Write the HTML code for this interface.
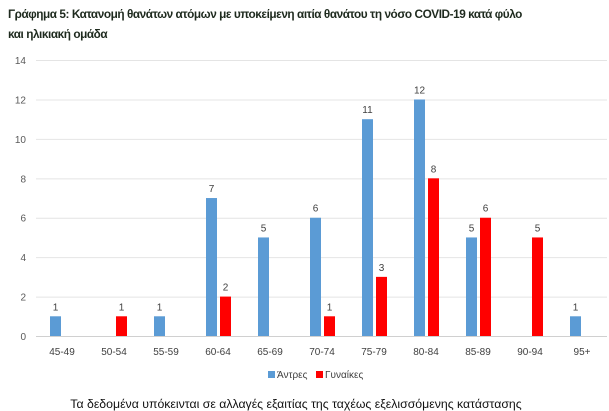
<!DOCTYPE html>
<html><head><meta charset="utf-8"><style>
body{margin:0;background:#fff;width:609px;height:411px;overflow:hidden;font-family:"Liberation Sans",sans-serif}
.t{position:absolute;left:8px;top:4px;font-weight:bold;font-size:11.8px;line-height:20px;color:#1e2a1e;letter-spacing:-0.45px;white-space:nowrap}
</style></head><body>
<div class="t">Γράφημα 5: Κατανομή θανάτων ατόμων με υποκείμενη αιτία θανάτου τη νόσο COVID-19 κατά φύλο<br>και ηλικιακή ομάδα</div>
<svg id="c" width="609" height="411" style="position:absolute;left:0;top:0"></svg>
<script>
const categories=["45-49","50-54","55-59","60-64","65-69","70-74","75-79","80-84","85-89","90-94","95+"];
const men=[1,0,1,7,5,6,11,12,5,0,1];
const women=[0,1,0,2,0,1,3,8,6,5,0];
const ticks=[0,2,4,6,8,10,12,14];
const svg=document.getElementById('c');
const NS="http://www.w3.org/2000/svg";
const x0=36,bw=52,y0=336,pu=19.71;
const xc=i=>x0+bw*(i+0.5);
const y=v=>y0-v*pu;
function mk(t,a,txt){const e=document.createElementNS(NS,t);for(const k in a)e.setAttribute(k,a[k]);if(txt!==undefined)e.textContent=txt;svg.appendChild(e);return e;}
ticks.forEach(v=>{
const l=mk('line',{x1:x0,x2:607,y1:y(v)+.5,y2:y(v)+.5,stroke:v?'#e4e4e4':'#d0d0d0','stroke-width':1});


const t=mk('text',{x:26,y:y(v)+4,'text-anchor':'end','font-size':10,fill:'#595959'},v);


});
categories.forEach((c,i)=>{
const t=mk('text',{x:xc(i),y:355,'text-anchor':'middle','font-size':10,fill:'#404040'},c);


if(men[i]>0){
const r=mk('rect',{x:xc(i)-12,y:y(men[i]),width:11,height:men[i]*pu,fill:'#5b9bd5'});


const l=mk('text',{x:xc(i)-6.5,y:y(men[i])-6,'text-anchor':'middle','font-size':10,fill:'#404040'},men[i]);


}
if(women[i]>0){
const r=mk('rect',{x:xc(i)+2,y:y(women[i]),width:11,height:women[i]*pu,fill:'#ff0000'});


const l=mk('text',{x:xc(i)+7.5,y:y(women[i])-6,'text-anchor':'middle','font-size':10,fill:'#404040'},women[i]);


}
});
let e;
e=mk('rect',{x:268,y:371,width:7,height:7,fill:'#5b9bd5'});


e=mk('text',{x:277,y:378,'font-size':10,fill:'#404040'},'Άντρες');


e=mk('rect',{x:316,y:371,width:7,height:7,fill:'#ff0000'});


e=mk('text',{x:325,y:378,'font-size':10,fill:'#404040'},'Γυναίκες');


e=mk('text',{x:296,y:408,'text-anchor':'middle','font-size':12.3,fill:'#111'},'Τα δεδομένα υπόκεινται σε αλλαγές εξαιτίας της ταχέως εξελισσόμενης κατάστασης');


</script>
</body></html>
